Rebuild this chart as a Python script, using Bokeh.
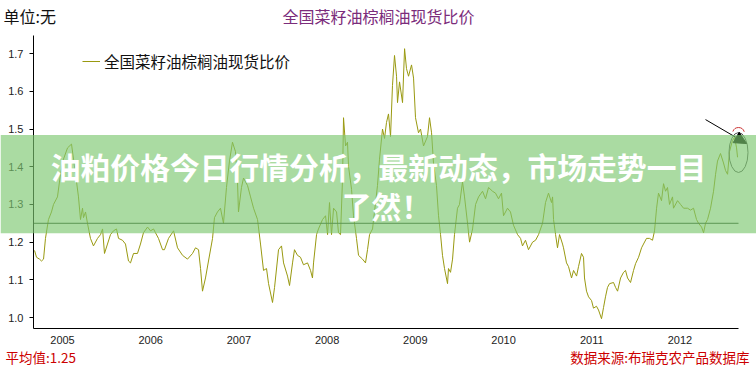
from bokeh.plotting import figure
from bokeh.models import (Range1d, FixedTicker, Label, BoxAnnotation, Arrow,
                          NormalHead, Legend, LegendItem, NumeralTickFormatter, LinearAxis)
from bokeh.embed import file_html
from bokeh.resources import INLINE

# decimal year of each observation
years = [
    2004.683, 2004.705, 2004.739, 2004.762, 2004.785, 2004.807, 2004.841, 2004.875, 2004.898, 2004.943,
    2004.977, 2005.011, 2005.057, 2005.102, 2005.125, 2005.159, 2005.181, 2005.204, 2005.227, 2005.238,
    2005.261, 2005.283, 2005.317, 2005.351, 2005.397, 2005.431, 2005.454, 2005.476, 2005.510, 2005.544,
    2005.578, 2005.612, 2005.635, 2005.680, 2005.714, 2005.748, 2005.771, 2005.805, 2005.850, 2005.884,
    2005.918, 2005.964, 2005.998, 2006.032, 2006.054, 2006.088, 2006.134, 2006.156, 2006.202, 2006.259,
    2006.304, 2006.361, 2006.417, 2006.474, 2006.508, 2006.542, 2006.565, 2006.587, 2006.621, 2006.655,
    2006.701, 2006.723, 2006.757, 2006.791, 2006.825, 2006.859, 2006.893, 2006.927, 2006.961, 2006.984,
    2006.995, 2007.029, 2007.052, 2007.098, 2007.132, 2007.166, 2007.211, 2007.245, 2007.279, 2007.313,
    2007.336, 2007.381, 2007.404, 2007.449, 2007.483, 2007.506, 2007.551, 2007.574, 2007.608, 2007.630,
    2007.664, 2007.698, 2007.732, 2007.778, 2007.812, 2007.834, 2007.846, 2007.880, 2007.902, 2007.948,
    2007.982, 2008.005, 2008.027, 2008.050, 2008.073, 2008.107, 2008.129, 2008.152, 2008.175, 2008.186,
    2008.209, 2008.231, 2008.243, 2008.277, 2008.299, 2008.333, 2008.356, 2008.401, 2008.435, 2008.458,
    2008.481, 2008.515, 2008.537, 2008.571, 2008.594, 2008.628, 2008.651, 2008.673, 2008.696, 2008.719,
    2008.741, 2008.764, 2008.787, 2008.798, 2008.821, 2008.855, 2008.878, 2008.900, 2008.923, 2008.957,
    2008.980, 2009.002, 2009.036, 2009.059, 2009.093, 2009.138, 2009.161, 2009.184, 2009.206, 2009.240,
    2009.263, 2009.286, 2009.308, 2009.331, 2009.365, 2009.376, 2009.399, 2009.422, 2009.444, 2009.478,
    2009.501, 2009.535, 2009.558, 2009.592, 2009.615, 2009.649, 2009.683, 2009.717, 2009.762, 2009.796,
    2009.830, 2009.875, 2009.909, 2009.943, 2009.977, 2010.000, 2010.045, 2010.079, 2010.113, 2010.159,
    2010.193, 2010.215, 2010.249, 2010.283, 2010.329, 2010.363, 2010.397, 2010.442, 2010.476, 2010.510,
    2010.544, 2010.556, 2010.567, 2010.590, 2010.612, 2010.635, 2010.669, 2010.680, 2010.714, 2010.737,
    2010.771, 2010.794, 2010.828, 2010.850, 2010.884, 2010.907, 2010.918, 2010.941, 2010.964, 2010.998,
    2011.020, 2011.054, 2011.077, 2011.111, 2011.134, 2011.156, 2011.179, 2011.202, 2011.247, 2011.270,
    2011.293, 2011.327, 2011.361, 2011.383, 2011.406, 2011.440, 2011.474, 2011.497, 2011.531, 2011.565,
    2011.587, 2011.621, 2011.655, 2011.689, 2011.712, 2011.735, 2011.757, 2011.791, 2011.814, 2011.837,
    2011.859, 2011.882, 2011.916, 2011.927, 2011.973, 2012.007, 2012.041, 2012.086, 2012.120, 2012.154,
    2012.188, 2012.211, 2012.245, 2012.268, 2012.290, 2012.313, 2012.347, 2012.381, 2012.404, 2012.426,
    2012.460, 2012.494, 2012.517, 2012.540, 2012.562, 2012.596, 2012.619, 2012.642, 2012.653,
]

# 全国菜籽油棕榈油现货比价
ratio = [
    1.178, 1.160, 1.155, 1.150, 1.155, 1.210, 1.260, 1.280, 1.300, 1.320,
    1.380, 1.420, 1.450, 1.460, 1.420, 1.360, 1.320, 1.260, 1.290, 1.265,
    1.280, 1.250, 1.210, 1.190, 1.210, 1.220, 1.235, 1.170, 1.195, 1.220,
    1.230, 1.235, 1.210, 1.205, 1.195, 1.150, 1.145, 1.170, 1.170, 1.195,
    1.225, 1.240, 1.230, 1.235, 1.225, 1.210, 1.180, 1.180, 1.210, 1.230,
    1.185, 1.165, 1.155, 1.170, 1.185, 1.180, 1.130, 1.070, 1.105, 1.150,
    1.210, 1.265, 1.280, 1.290, 1.250, 1.345, 1.415, 1.465, 1.440, 1.360,
    1.280, 1.345, 1.370, 1.350, 1.320, 1.290, 1.260, 1.195, 1.125, 1.130,
    1.090, 1.040, 1.080, 1.180, 1.190, 1.145, 1.110, 1.085, 1.145, 1.180,
    1.165, 1.160, 1.140, 1.145, 1.125, 1.105, 1.145, 1.220, 1.235, 1.260,
    1.270, 1.220, 1.305, 1.220, 1.290, 1.280, 1.225, 1.220, 1.370, 1.530,
    1.455, 1.465, 1.400, 1.340, 1.270, 1.210, 1.165, 1.155, 1.145, 1.180,
    1.220, 1.235, 1.280, 1.350, 1.420, 1.500, 1.475, 1.517, 1.540, 1.480,
    1.615, 1.695, 1.640, 1.570, 1.625, 1.570, 1.713, 1.660, 1.640, 1.670,
    1.635, 1.530, 1.490, 1.500, 1.455, 1.480, 1.530, 1.490, 1.410, 1.350,
    1.270, 1.220, 1.165, 1.130, 1.090, 1.130, 1.120, 1.155, 1.220, 1.290,
    1.300, 1.360, 1.320, 1.250, 1.200, 1.235, 1.300, 1.320, 1.335, 1.315,
    1.345, 1.335, 1.330, 1.315, 1.330, 1.270, 1.290, 1.280, 1.245, 1.220,
    1.210, 1.190, 1.205, 1.180, 1.200, 1.205, 1.220, 1.250, 1.305, 1.330,
    1.305, 1.320, 1.260, 1.220, 1.185, 1.220, 1.195, 1.185, 1.145, 1.135,
    1.105, 1.125, 1.110, 1.135, 1.170, 1.160, 1.105, 1.070, 1.055, 1.045,
    1.025, 1.030, 1.020, 0.997, 1.027, 1.055, 1.080, 1.090, 1.093, 1.080,
    1.070, 1.105, 1.120, 1.125, 1.105, 1.093, 1.125, 1.143, 1.160, 1.185,
    1.195, 1.210, 1.210, 1.205, 1.230, 1.290, 1.330, 1.310, 1.355, 1.335,
    1.345, 1.300, 1.320, 1.290, 1.310, 1.300, 1.290, 1.290, 1.285, 1.290,
    1.260, 1.250, 1.240, 1.225, 1.250, 1.260, 1.290, 1.335, 1.380, 1.415,
    1.435, 1.410, 1.390, 1.380, 1.440, 1.470, 1.478, 1.450, 1.425,
]

mean_value = 1.25
year_ticks = [2005, 2006, 2007, 2008, 2009, 2010, 2011, 2012]
ratio_ticks = [1.0, 1.1, 1.2, 1.3, 1.4, 1.5, 1.6, 1.7]

# extent of the drawn axes
x_axis_span = (2004.671, 2012.664)
y_axis_span = (0.971, 1.748)

# annotation (arrow and circle marking the latest values)
arrow_from = (2012.290, 1.525)
arrow_to = (2012.755, 1.4615)
circle_at = ([2012.664], [1.4377])
red_mark_at = ([2012.664], [1.488])

CJK = "Noto Sans CJK SC"
W, H = 756, 369

p = figure(width=W, height=H, output_backend="svg", toolbar_location=None,
           x_range=Range1d(2004.297, 2012.868), y_range=Range1d(0.8623, 1.8408),
           x_axis_type=None, y_axis_type=None,
           min_border_left=0, min_border_right=0, min_border_top=0, min_border_bottom=0)
p.outline_line_color = None
p.background_fill_color = "white"
p.border_fill_color = "white"

xaxis = LinearAxis(ticker=FixedTicker(ticks=year_ticks), fixed_location=y_axis_span[0],
                   bounds=x_axis_span)
yaxis = LinearAxis(ticker=FixedTicker(ticks=ratio_ticks), fixed_location=x_axis_span[0],
                   bounds=y_axis_span, formatter=NumeralTickFormatter(format="0.0"))
for ax in (xaxis, yaxis):
    ax.axis_line_color = "black"
    ax.axis_line_width = 1
    ax.major_label_text_font = "Liberation Sans"
    ax.major_label_text_font_size = "11px"
    ax.major_label_text_color = "#222222"
    ax.minor_tick_line_color = None
    ax.major_tick_in = 0
xaxis.major_tick_out = 0
xaxis.major_label_standoff = 7
yaxis.major_tick_out = 4
yaxis.major_tick_line_color = "black"
yaxis.major_label_standoff = 6
p.add_layout(xaxis, "below")
p.add_layout(yaxis, "left")

r = p.line(years, ratio, line_color="#999910", line_width=1)

p.segment(x0=[x_axis_span[0]], x1=[x_axis_span[1]], y0=[mean_value], y1=[mean_value],
          line_color="#1e3a1e", line_width=1)

p.add_layout(Arrow(end=NormalHead(size=12, fill_color="black", line_color="black"),
                   x_start=arrow_from[0], y_start=arrow_from[1],
                   x_end=arrow_to[0], y_end=arrow_to[1],
                   line_color="black", line_width=1))
p.ellipse(x=circle_at[0], y=circle_at[1], width=19, height=40,
          width_units="screen", height_units="screen",
          fill_color=None, line_color="#555555", line_width=1)
p.arc(x=red_mark_at[0], y=red_mark_at[1], radius=6, radius_units="screen",
      start_angle=0.3, end_angle=2.8, line_color="#cc3333", line_width=1)

legend = Legend(items=[LegendItem(label="全国菜籽油棕榈油现货比价", renderers=[r])],
                location=(82, 297), background_fill_alpha=0, border_line_color=None,
                padding=0, margin=0, spacing=0, glyph_width=18, glyph_height=14,
                label_standoff=4, label_text_font=CJK, label_text_font_size="15.5px",
                label_text_color="#111111")
p.add_layout(legend)

# overlay banner
p.add_layout(BoxAnnotation(bottom=1.2236, top=1.484,
                           fill_color="#7cc870", fill_alpha=0.65, line_color=None))

p.add_layout(Label(x=378, y=H - 165, x_units="screen", y_units="screen",
                   text="油粕价格今日行情分析，最新动态，市场走势一目",
                   text_font=CJK, text_font_size="29.8px", text_font_style="bold",
                   text_color="white", text_align="center", text_baseline="middle"))
p.add_layout(Label(x=386, y=H - 204, x_units="screen", y_units="screen",
                   text="了然！",
                   text_font=CJK, text_font_size="29.8px", text_font_style="bold",
                   text_color="white", text_align="center", text_baseline="middle"))

# titles and notes
p.add_layout(Label(x=378, y=H - 15, x_units="screen", y_units="screen",
                   text="全国菜籽油棕榈油现货比价", text_font=CJK, text_font_size="16px",
                   text_color="#7b2c7b", text_align="center", text_baseline="middle"))
p.add_layout(Label(x=3, y=H - 15, x_units="screen", y_units="screen",
                   text="单位:无", text_font=CJK, text_font_size="16px",
                   text_color="#111111", text_align="left", text_baseline="middle"))
p.add_layout(Label(x=5, y=H - 356, x_units="screen", y_units="screen",
                   text="平均值:1.25", text_font=CJK, text_font_size="13.5px",
                   text_color="#cc0000", text_align="left", text_baseline="middle"))
p.add_layout(Label(x=749, y=H - 356, x_units="screen", y_units="screen",
                   text="数据来源:布瑞克农产品数据库", text_font=CJK, text_font_size="13.5px",
                   text_color="#cc0000", text_align="right", text_baseline="middle"))

open("out.html", "w").write(file_html(p, INLINE))
